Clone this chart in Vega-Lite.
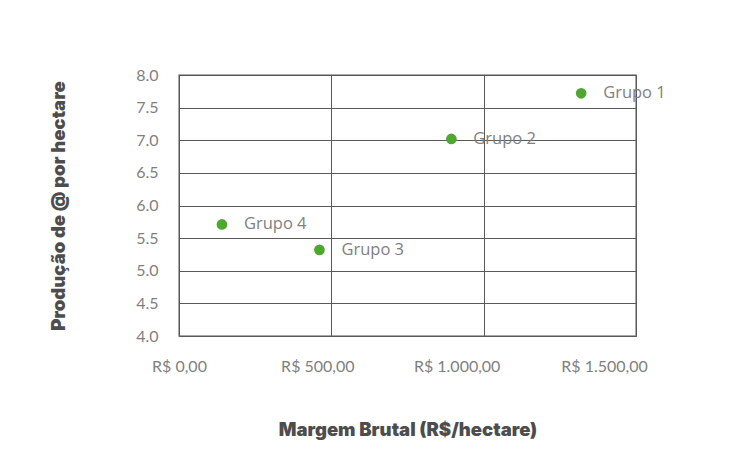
{
  "$schema": "https://vega.github.io/schema/vega-lite/v6.json",
  "autosize": "none",
  "padding": {"left": 179, "top": 75, "right": 106, "bottom": 119},
  "width": 457,
  "height": 261,
  "background": "white",
  "data": {
    "values": [
      {"grupo": "Grupo 1", "margem": 1320, "producao": 7.72},
      {"grupo": "Grupo 2", "margem": 894, "producao": 7.02},
      {"grupo": "Grupo 3", "margem": 461, "producao": 5.32},
      {"grupo": "Grupo 4", "margem": 141, "producao": 5.71}
    ]
  },
  "encoding": {
    "x": {
      "field": "margem",
      "type": "quantitative",
      "title": "Margem Brutal (R$/hectare)",
      "scale": {"domain": [0, 1500], "nice": false, "zero": false},
      "axis": {
        "values": [0, 500, 1000, 1500],
        "labelExpr": "'R$ ' + replace(replace(replace(format(datum.value, ',.2f'), ',', '#'), '.', ','), '#', '.')",
        "labelFlush": false,
        "labelOffset": {"expr": "datum.value == 0 ? 0 : datum.value == 500 ? -14 : datum.value == 1000 ? -27 : -32"},
        "titleY": 93,
        "titleBaseline": "middle"
      }
    },
    "y": {
      "field": "producao",
      "type": "quantitative",
      "title": "Produção de @ por hectare",
      "scale": {"domain": [4, 8], "nice": false, "zero": false},
      "axis": {
        "values": [4, 4.5, 5, 5.5, 6, 6.5, 7, 7.5, 8],
        "format": ".1f",
        "labelPadding": 21,
        "labelFlush": false,
        "titleX": -121,
        "titleBaseline": "middle"
      }
    }
  },
  "layer": [
    {
      "mark": {"type": "circle", "size": 115, "color": "#4ea72e", "opacity": 1}
    },
    {
      "mark": {
        "type": "text",
        "align": "left",
        "baseline": "middle",
        "dx": 22,
        "font": "Open Sans",
        "fontSize": 16.5,
        "color": "#7f7f7f"
      },
      "encoding": {"text": {"field": "grupo"}}
    }
  ],
  "config": {
    "view": {"stroke": "#8c8c8c", "strokeWidth": 1.5},
    "axis": {
      "domain": false,
      "ticks": false,
      "grid": true,
      "gridColor": "#595959",
      "gridOpacity": 1,
      "gridWidth": 1,
      "labelFont": "Lato",
      "labelFontSize": 16,
      "labelColor": "#7f7f7f",
      "titleFont": "Inter",
      "titleFontWeight": 900,
      "titleFontSize": 18.5,
      "titleColor": "#4d4d4d"
    },
    "axisX": {"labelPadding": 22}
  }
}
